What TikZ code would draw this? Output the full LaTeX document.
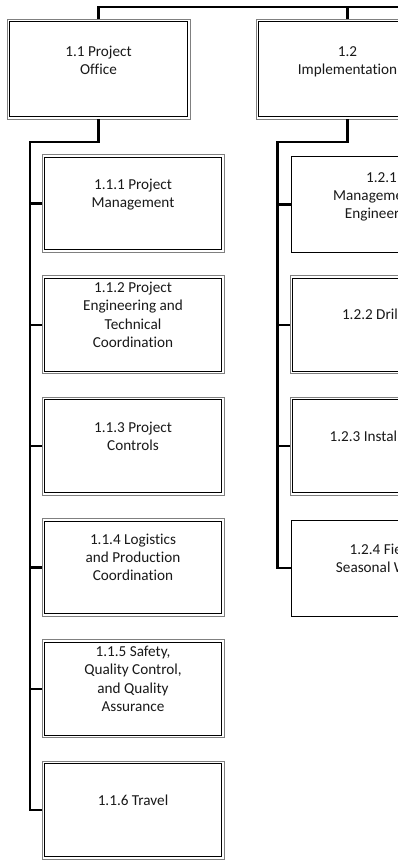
\documentclass[tikz,border=0pt]{standalone}
\usepackage{fontspec}
\setmainfont{Carlito}[Ligatures=NoCommon]
\begin{document}
\begin{tikzpicture}[x=1pt,y=-1pt,
  outerbox/.style={draw=gray, line width=1pt, rectangle, inner sep=0pt, outer sep=0pt,
    minimum width=182pt, minimum height=98pt},
  topbox/.style={outerbox, minimum width=183pt, minimum height=100pt},
  singlebox/.style={draw=black, line width=0.9pt, rectangle, inner sep=0pt, outer sep=0pt,
    minimum width=181pt, minimum height=96pt},
  innerline/.style={draw=black, line width=0.9pt},
  lbl/.style={inner sep=0pt, align=center, text=black!90, font=\fontsize{15.2}{18.3}\selectfont},
  conn/.style={draw=black, line width=2.3pt}
]
\path[use as bounding box, fill=white] (0,0) rectangle (398,860);

% top level boxes
\node[topbox] (p11) at (98.5,69) {};
\node[topbox] (p12) at (347.5,69) {};

% left column children
\node[outerbox] (p111) at (133,203.5) {};
\node[outerbox] (p112) at (133,324.8) {};
\node[outerbox] (p113) at (133,446.1) {};
\node[outerbox] (p114) at (133,567.4) {};
\node[outerbox] (p115) at (133,688.7) {};
\node[outerbox] (p116) at (133,810) {};

% right column children
\node[singlebox] (p121) at (381.5,204.5) {};
\node[outerbox] (p122) at (381,324.8) {};
\node[outerbox] (p123) at (381,446.1) {};
\node[singlebox] (p124) at (381.5,568) {};

% inner black lines of the double-bordered boxes
\foreach \n in {p11,p12,p111,p112,p113,p114,p115,p116,p122,p123}
  \draw[innerline] ([shift={(2.6,2.6)}]\n.north west) rectangle ([shift={(-2.6,-2.6)}]\n.south east);

% labels
\node[lbl] (t11) at ([yshift=7.5pt]p11.center) {\strut 1.1 Project\\\strut Office};
\node[lbl] (t12) at ([yshift=7.5pt]p12.center) {\strut 1.2\\\strut Implementation};
\node[lbl] (t111) at ([yshift=8.5pt]p111.center) {\strut 1.1.1 Project\\\strut Management};
\node[lbl] (t112) at ([yshift=8.5pt]p112.center) {\strut 1.1.2 Project\\\strut Engineering and\\\strut Technical\\\strut Coordination};
\node[lbl] (t113) at ([yshift=8.5pt]p113.center) {\strut 1.1.3 Project\\\strut Controls};
\node[lbl] (t114) at ([yshift=8.5pt]p114.center) {\strut 1.1.4 Logistics\\\strut and Production\\\strut Coordination};
\node[lbl] (t115) at ([yshift=8.5pt]p115.center) {\strut 1.1.5 Safety,\\\strut Quality Control,\\\strut and Quality\\\strut Assurance};
\node[lbl] (t116) at ([yshift=8.5pt]p116.center) {\strut 1.1.6 Travel};
\node[lbl] (t121) at ([yshift=7.5pt]p121.center) {\strut 1.2.1\\\strut Management \&\\\strut Engineering};
\node[lbl] (t122) at ([yshift=8.5pt]p122.center) {\strut 1.2.2 Drilling};
\node[lbl] (t123) at ([yshift=8.5pt]p123.center) {\strut 1.2.3 Installation};
\node[lbl] (t124) at ([yshift=8.5pt]p124.center) {\strut 1.2.4 Field\\\strut Seasonal Work};

% connectors
\coordinate (busR) at (420,7);
\coordinate (busL) at (98.5,7);
\coordinate (trL) at (30,142);
\coordinate (trR) at (277.5,142);

\draw[conn] (p11.north) -- (busL) -- (busR);
\draw[conn] (p12.north) -- (p12.north |- busR);

\draw[conn] (p11.south) |- (trL) -- (trL |- p116.west) -- (p116.west);
\foreach \c in {p111,p112,p113,p114,p115}
  \draw[conn] (trL |- \c.west) -- (\c.west);

\draw[conn] (p12.south) |- (trR) -- (trR |- p124.west) -- (p124.west);
\foreach \c in {p121,p122,p123}
  \draw[conn] (trR |- \c.west) -- (\c.west);
\end{tikzpicture}
\end{document}
